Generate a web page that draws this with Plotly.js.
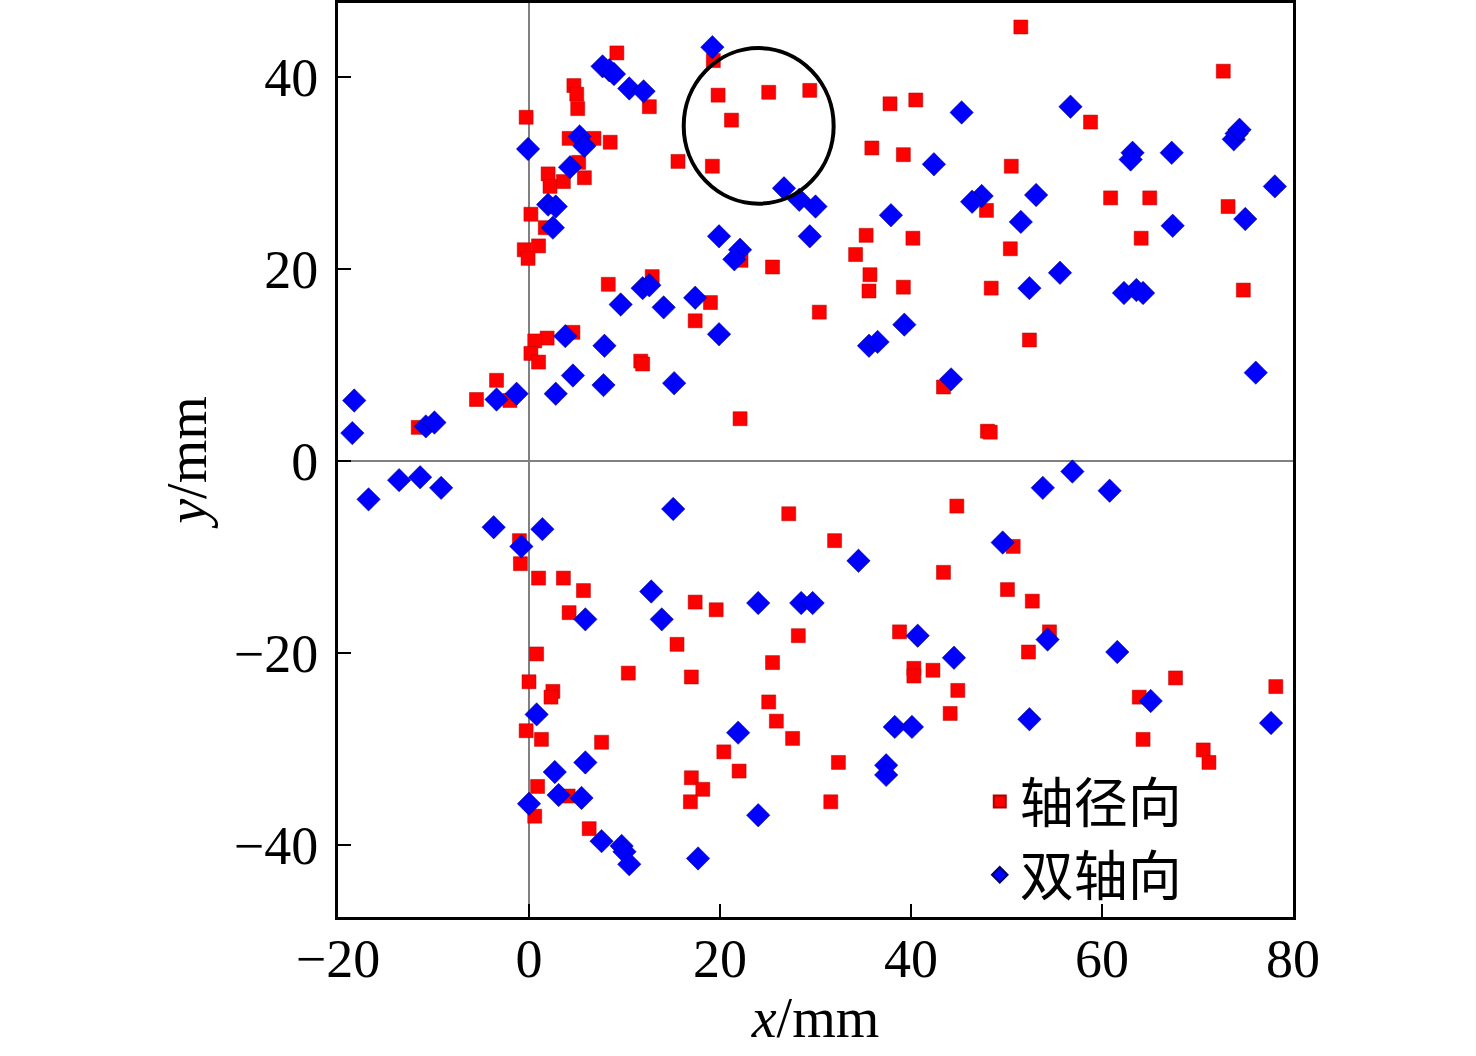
<!DOCTYPE html>
<html>
<head>
<meta charset="utf-8">
<script src="https://cdn.plot.ly/plotly-3.0.1.min.js"></script>
<style>html,body{margin:0;padding:0;background:#fff;}#chart{width:1476px;height:1056px;}</style>
</head>
<body>
<div id="chart"></div>
<script>
// 轴径向 (red squares)
const radialX = [51.5, 9.2, 19.3, 19.8, 25.1, 29.4, 21.2, 19.2, 15.6, 4.7, 5.0, 5.1, 12.6, -0.3, 4.2, 6.8, 8.5, 5.2, 5.8, 2.0, 2.2, 3.6, 0.2, 1.7, -0.5, 1.0, -0.1,
  37.8, 40.5, 35.9, 39.2, 50.5, 58.8, 72.7, 73.2, 47.9, 60.9, 65.0, 64.1, 50.4, 40.2, 35.3, 34.2, 35.7, 35.6, 39.2, 48.4, 74.8, 52.4,
  25.5, 22.2, 12.9, 8.3, 19.0, 17.4, 30.4, 11.7, 11.9, 4.6, 1.9, 0.6, 0.2, 1.0, -3.4, -5.5, -2.0, -11.6, 22.1, 43.4, 48.0, 48.3,
  27.2, 44.8, 32.0, -1.0, -0.9, 1.0, 3.6, 5.7, 4.2, 17.4, 19.6, 43.4, 50.7, 50.1, 52.7, 54.5, 52.3, 28.2, 38.8, 15.5, 0.8, 10.4, 17.0, 25.5,
  40.3, 40.3, 42.3, 44.9, 0.0, 2.5, 2.3, 25.1, 44.1, 63.9, 67.7, 78.2, 25.9, -0.3, 1.3, 7.6, 27.6, 64.3, 20.4, 32.4, 70.6, 71.2, 22.0,
  17.0, 0.9, 4.1, 18.2, 16.9, 31.6, 6.3, 0.6];
const radialY = [45.2, 42.5, 41.7, 38.1, 38.4, 38.6, 35.5, 30.7, 31.2, 39.1, 38.2, 36.7, 36.9, 35.8, 33.6, 33.6, 33.2, 31.1, 29.5, 29.9, 28.6, 29.1, 25.7, 24.3, 22.0, 22.4, 21.1,
  37.2, 37.6, 32.6, 31.9, 30.7, 35.3, 40.6, 26.5, 26.1, 27.4, 27.4, 23.2, 22.1, 23.2, 23.5, 21.5, 19.4, 17.7, 18.1, 18.0, 17.8, 12.6,
  20.2, 20.9, 19.2, 18.4, 16.5, 14.6, 15.5, 10.4, 10.1, 13.4, 12.8, 12.5, 11.2, 10.3, 8.4, 6.4, 6.3, 3.5, 4.4, 7.7, 3.1, 3.0,
  -5.5, -4.7, -8.3, -8.3, -10.7, -12.2, -12.2, -13.5, -15.8, -14.7, -15.5, -11.6, -8.9, -13.4, -14.6, -17.8, -19.9, -18.2, -17.8, -19.1, -20.1, -22.1, -22.5, -21.0,
  -21.6, -22.4, -21.8, -23.9, -23.0, -24.0, -24.6, -25.1, -26.3, -24.6, -22.6, -23.5, -27.1, -28.1, -29.0, -29.3, -28.9, -29.0, -30.3, -31.4, -30.1, -31.4, -32.3,
  -33.0, -33.9, -34.9, -34.2, -35.5, -35.5, -38.3, -37.0];

// 双轴向 (blue diamonds)
const biaxialX = [19.2, 7.7, 8.4, 8.9, 10.5, 12.0, -0.1, 5.3, 5.8, 4.3, 2.0, 2.8, 2.5, 42.4, 45.3, 56.7, 63.2, 63.0, 67.3, 73.8, 74.1, 74.4, 78.1, 75.0, 67.4,
  53.1, 47.4, 46.4, 51.5, 26.7, 28.3, 30.0, 29.4, 37.9, 19.9, 22.1, 21.5, 11.9, 12.6, 17.4, 9.6, 14.1, 19.9, 35.6, 36.5, 39.3, 52.4, 55.6, 62.3, 63.6, 64.3,
  76.1, 44.2, 3.8, 7.9, 7.8, 4.6, 2.8, 15.2, -1.3, -3.4, -18.3, -18.5, -10.8, -9.9,
  -16.8, -13.6, -11.4, -9.2, -3.7, -0.8, 1.4, 15.1, 56.9, 53.8, 60.8, 34.5, 49.6, 12.8, 13.9, 5.9, 24.0, 28.5, 29.7, 40.7, 44.5, 54.3, 61.6, 52.4, 65.1, 77.7,
  0.8, 21.9, 38.3, 40.1, 37.4, 37.4, 5.9, 2.7, 3.1, 5.5, 0.0, 24.0, 7.6, 9.7, 10.0, 10.5, 17.7];
const biaxialY = [43.1, 41.1, 40.7, 40.3, 38.8, 38.5, 32.5, 33.8, 32.8, 30.6, 26.7, 26.5, 24.3, 30.9, 36.3, 36.9, 32.1, 31.4, 32.1, 33.5, 34.1, 34.5, 28.6, 25.2, 24.5,
  27.7, 27.6, 27.0, 24.9, 28.4, 27.2, 26.5, 23.4, 25.6, 23.4, 22.0, 21.0, 18.0, 18.3, 17.0, 16.3, 16.0, 13.2, 12.0, 12.4, 14.2, 18.0, 19.6, 17.5, 17.8, 17.5,
  9.2, 8.5, 13.0, 12.0, 7.9, 8.9, 7.0, 8.1, 7.0, 6.4, 6.3, 2.9, 3.6, 4.0,
  -4.0, -2.0, -1.7, -2.8, -6.9, -8.9, -7.1, -5.0, -1.1, -2.8, -3.1, -10.4, -8.5, -13.6, -16.5, -16.5, -14.8, -14.8, -14.8, -18.2, -20.5, -18.6, -19.9, -26.9, -25.0, -27.3,
  -26.4, -28.3, -27.7, -27.7, -31.7, -32.7, -31.4, -32.4, -34.8, -35.1, -35.7, -36.9, -39.6, -40.1, -40.7, -42.0, -41.4];

const seriesNames = ['轴径向', '双轴向'];
const xTicks = [-20, 0, 20, 40, 60, 80];
const yTicks = [-40, -20, 0, 20, 40];

const serif = '"Liberation Serif", "Times New Roman", serif';

const traces = [
  {
    x: radialX, y: radialY, type: 'scatter', mode: 'markers', name: seriesNames[0],
    marker: {symbol: 'square', size: 14, color: '#ff0000', line: {color: '#b00000', width: 0.5}}
  },
  {
    x: biaxialX, y: biaxialY, type: 'scatter', mode: 'markers', name: seriesNames[1],
    marker: {symbol: 'diamond', size: 18, color: '#0000ff', line: {color: '#00006a', width: 0.5}}
  }
];

const layout = {
  width: 1476, height: 1056,
  margin: {l: 338, r: 183, t: 3, b: 139, pad: 0},
  paper_bgcolor: '#ffffff', plot_bgcolor: '#ffffff',
  showlegend: true,
  legend: {
    x: 0.672, y: 0.0, xanchor: 'left', yanchor: 'bottom',
    bgcolor: 'rgba(0,0,0,0)', borderwidth: 0,
    font: {family: '"Noto Sans CJK SC", sans-serif', size: 54, color: '#000'},
    itemsizing: 'constant', tracegroupgap: 0
  },
  xaxis: {
    range: [-20, 80], tickvals: xTicks, ticktext: xTicks.map(v => v < 0 ? '\u2212' + Math.abs(v) : String(v)),
    ticks: 'inside', ticklen: 13, tickwidth: 2, tickcolor: '#000', ticklabelstandoff: -8,
    showline: true, linecolor: '#000', linewidth: 3, mirror: true,
    showgrid: false, zeroline: true, zerolinecolor: '#808080', zerolinewidth: 2,
    tickfont: {family: serif, size: 54, color: '#000'},
    title: {text: '<i>x</i>/mm', font: {family: serif, size: 56, color: '#000'}, standoff: 11}
  },
  yaxis: {
    range: [-47.5, 47.7], tickvals: yTicks, ticktext: yTicks.map(v => v < 0 ? '\u2212' + Math.abs(v) : String(v)),
    ticks: 'inside', ticklen: 13, tickwidth: 2, tickcolor: '#000', ticklabelstandoff: 6,
    showline: true, linecolor: '#000', linewidth: 3, mirror: true,
    showgrid: false, zeroline: true, zerolinecolor: '#808080', zerolinewidth: 2,
    tickfont: {family: serif, size: 54, color: '#000'},
    title: {text: '<i>y</i>/mm', font: {family: serif, size: 56, color: '#000'}, standoff: 10}
  },
  shapes: [
    {type: 'circle', xref: 'x', yref: 'y', x0: 16.2, x1: 31.9, y0: 26.8, y1: 43.0,
     line: {color: '#000', width: 4}, layer: 'above'}
  ]
};

Plotly.newPlot('chart', traces, layout, {displayModeBar: false, staticPlot: true});
</script>
</body>
</html>
